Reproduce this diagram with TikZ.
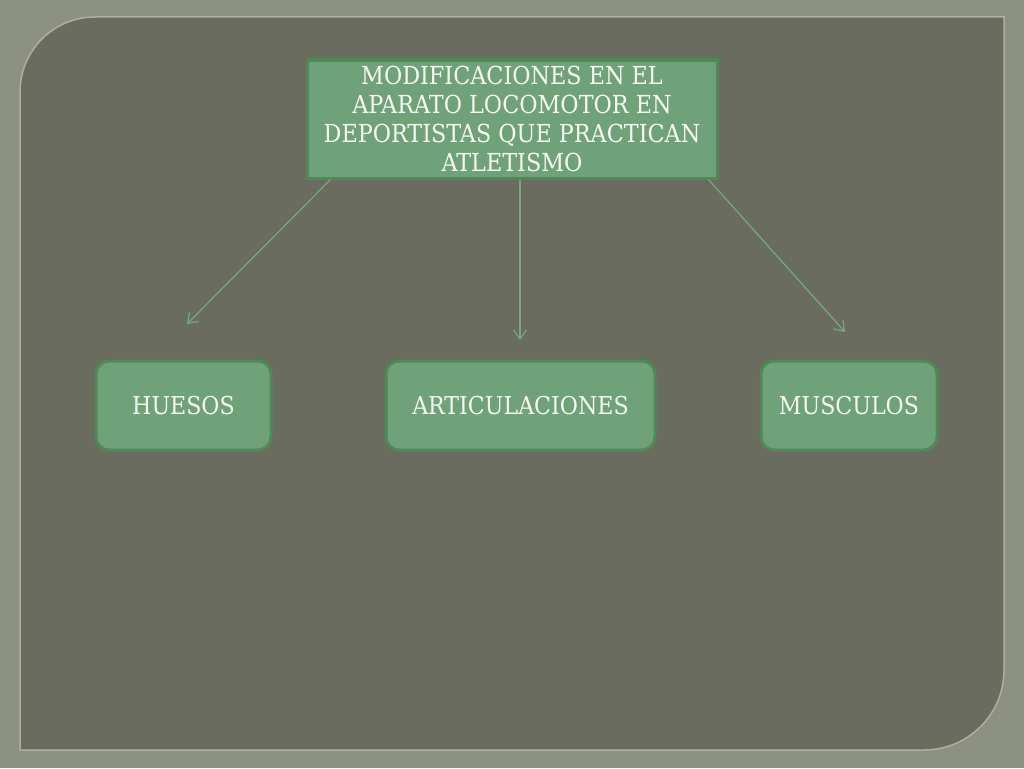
\documentclass[tikz,border=0pt]{standalone}
\usepackage{fontspec}
\setmainfont{DejaVu Serif Condensed}
\usetikzlibrary{arrows.meta}
\definecolor{frameGray}{RGB}{141,145,127}
\definecolor{panelGray}{RGB}{106,108,95}
\definecolor{edgeLight}{RGB}{172,176,156}
\definecolor{boxGreen}{RGB}{111,162,120}
\definecolor{boxEdge}{RGB}{79,137,87}
\definecolor{arrowGreen}{RGB}{118,170,126}
\definecolor{textWhite}{RGB}{248,248,242}

\begin{document}
\begin{tikzpicture}[x=1pt,y=-1pt]

\tikzstyle{title}=[rectangle, draw=boxEdge, fill=boxGreen, line width=3pt, text=textWhite, inner sep=0pt, minimum width=410pt, minimum height=118pt, align=center, font=\fontsize{24.8}{28.7}\selectfont]
\tikzstyle{part}=[rectangle, rounded corners=13pt, draw=boxEdge, fill=boxGreen, line width=3pt, text=textWhite, inner sep=0pt, minimum height=89pt, font=\fontsize{24.6}{28}\selectfont]
\tikzstyle{arrow}=[-{Straight Barb[length=9pt,width=13pt]}, draw=arrowGreen, line width=1.2pt]

% background frame
\useasboundingbox (0,0) rectangle (1024,768);
\fill[frameGray] (0,0) rectangle (1024,768);
\fill[panelGray] (20,750) -- (20,92) arc[start angle=180, end angle=270, radius=75] -- (1004,17) -- (1004,670) arc[start angle=0, end angle=90, radius=80] -- cycle;
\draw[edgeLight, line width=1.5pt] (20,750) -- (20,92) arc[start angle=180, end angle=270, radius=75] -- (1004,17) -- (1004,670) arc[start angle=0, end angle=90, radius=80] -- cycle;

\node (top) [title] at (512,119) {MODIFICACIONES EN EL\\
				  APARATO LOCOMOTOR EN\\
				  DEPORTISTAS QUE PRACTICAN\\
				  ATLETISMO};

\node (huesos) [part, minimum width=175pt] at (183.5,405.5) {HUESOS};
\node (artic)  [part, minimum width=269pt] at (520.5,405.5) {ARTICULACIONES};
\node (musc)   [part, minimum width=176pt] at (849,405.5)   {MUSCULOS};

\coordinate (huesosTip) at (187,324);
\coordinate (articTip)  at (520,340);
\coordinate (muscTip)   at (845,332);

\draw[arrow] ([xshift=25pt]top.south west) -- (huesosTip);
\draw[arrow] ([xshift=8pt]top.south) -- (articTip);
\draw[arrow] ([xshift=-10pt]top.south east) -- (muscTip);
\end{tikzpicture}
\end{document}
